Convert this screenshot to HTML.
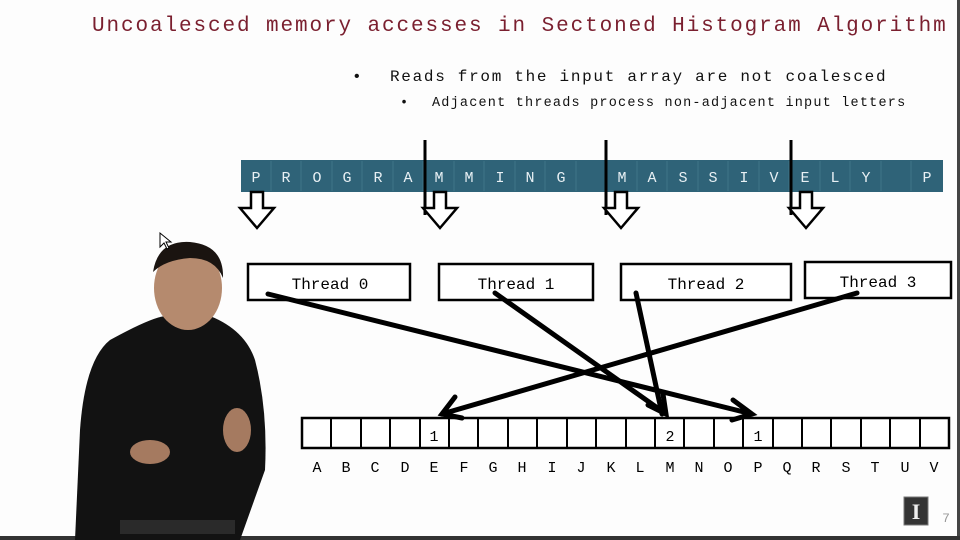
<!DOCTYPE html>
<html><head><meta charset="utf-8"><style>
body{margin:0;width:960px;height:540px;overflow:hidden;background:#fff;font-family:"Liberation Mono",monospace;}
svg{position:absolute;left:0;top:0}
</style></head><body>
<svg width="960" height="540" viewBox="0 0 960 540" font-family="Liberation Mono, monospace">
<rect width="960" height="540" fill="#fdfdfd"/>
<rect x="957" y="0" width="3" height="540" fill="#444"/>
<rect x="0" y="536" width="960" height="4" fill="#333"/>
<text x="92" y="31" font-size="21" fill="#7a1f2f" letter-spacing="1.9">Uncoalesced memory accesses in Sectoned Histogram Algorithm</text>
<text x="352" y="81" font-size="16" fill="#111">•</text>
<text x="390" y="81" font-size="16" fill="#111" letter-spacing="1.7">Reads from the input array are not coalesced</text>
<text x="400" y="106" font-size="13.5" fill="#111">•</text>
<text x="432" y="106" font-size="13.5" fill="#111" letter-spacing="1.2">Adjacent threads process non-adjacent input letters</text>
<rect x="241" y="160" width="702" height="32" fill="#2f6378"/>
<g fill="#e8f0f4" font-size="15" text-anchor="middle">
<text x="256" y="182">P</text><text x="286" y="182">R</text><text x="317" y="182">O</text><text x="347" y="182">G</text><text x="378" y="182">R</text><text x="408" y="182">A</text><text x="439" y="182">M</text><text x="469" y="182">M</text><text x="500" y="182">I</text><text x="530" y="182">N</text><text x="561" y="182">G</text><text x="622" y="182">M</text><text x="652" y="182">A</text><text x="683" y="182">S</text><text x="713" y="182">S</text><text x="744" y="182">I</text><text x="774" y="182">V</text><text x="805" y="182">E</text><text x="835" y="182">L</text><text x="866" y="182">Y</text><text x="927" y="182">P</text>
</g>
<g stroke="#3f7589" stroke-width="1">
<path d="M271 161v30M301 161v30M332 161v30M362 161v30M393 161v30M423 161v30M454 161v30M484 161v30M515 161v30M545 161v30M576 161v30M606 161v30M637 161v30M667 161v30M698 161v30M728 161v30M759 161v30M789 161v30M820 161v30M850 161v30M881 161v30M911 161v30"/>
</g>
<g stroke="#000" stroke-width="3"><path d="M425 140v75M606 140v75M791 140v75"/></g>
<g fill="#fff" stroke="#000" stroke-width="2.5">
<path d="M251 192h12v16h11l-17 20l-17-20h11z"/>
<path d="M434 192h12v16h11l-17 20l-17-20h11z"/>
<path d="M615 192h12v16h11l-17 20l-17-20h11z"/>
<path d="M800 192h12v16h11l-17 20l-17-20h11z"/>
</g>
<g fill="#fff" stroke="#000" stroke-width="2.5">
<rect x="248" y="264" width="162" height="36"/><rect x="439" y="264" width="154" height="36"/>
<rect x="621" y="264" width="170" height="36"/><rect x="805" y="262" width="146" height="36"/>
</g>
<g font-size="16" text-anchor="middle" fill="#000">
<text x="330" y="289">Thread 0</text><text x="516" y="289">Thread 1</text><text x="706" y="289">Thread 2</text><text x="878" y="287">Thread 3</text>
</g>
<rect x="302" y="418" width="647" height="30" fill="#fff" stroke="#000" stroke-width="2.5"/>
<g stroke="#000" stroke-width="2">
<path d="M331 418v30M361 418v30M390 418v30M420 418v30M449 418v30M478 418v30M508 418v30M537 418v30M567 418v30M596 418v30M626 418v30M655 418v30M684 418v30M714 418v30M743 418v30M773 418v30M802 418v30M831 418v30M861 418v30M890 418v30M920 418v30"/>
</g>
<g font-size="15" text-anchor="middle" fill="#000">
<text x="434" y="441">1</text><text x="670" y="441">2</text><text x="758" y="441">1</text>
</g>
<g font-size="15" text-anchor="middle" fill="#000">
<text x="317" y="472">A</text><text x="346" y="472">B</text><text x="375" y="472">C</text><text x="405" y="472">D</text><text x="434" y="472">E</text><text x="464" y="472">F</text><text x="493" y="472">G</text><text x="522" y="472">H</text><text x="552" y="472">I</text><text x="581" y="472">J</text><text x="611" y="472">K</text><text x="640" y="472">L</text><text x="670" y="472">M</text><text x="699" y="472">N</text><text x="728" y="472">O</text><text x="758" y="472">P</text><text x="787" y="472">Q</text><text x="816" y="472">R</text><text x="846" y="472">S</text><text x="875" y="472">T</text><text x="905" y="472">U</text><text x="934" y="472">V</text>
</g>
<g stroke="#000" stroke-width="5" fill="none" stroke-linecap="round">
<path d="M268 294L752 414M733 400L752 414L732 420"/>
<path d="M495 293L666 414M648 405L666 414L663 394"/>
<path d="M636 293L662 414"/>
<path d="M857 293L442 414M455 397L442 414L462 418"/>
</g>
<g>
<path d="M75 540L80 430Q85 360 110 340Q150 318 165 316L210 316Q245 330 255 360Q268 410 265 470L240 540Z" fill="#121212"/>
<ellipse cx="188" cy="288" rx="34" ry="42" fill="#b58a6e"/>
<path d="M153 272Q158 240 190 242Q224 245 223 278Q215 258 190 258Q165 260 153 272Z" fill="#1a1410"/>
<ellipse cx="150" cy="452" rx="20" ry="12" fill="#a57a60"/>
<ellipse cx="237" cy="430" rx="14" ry="22" fill="#a57a60"/>
<rect x="120" y="520" width="115" height="14" fill="#2a2a2a"/>
</g>
<path d="M160 233l0 14l4-4l3 6l2-1l-3-6l5 0z" fill="#fff" stroke="#000" stroke-width="1"/>
<rect x="904" y="497" width="24" height="28" fill="#333" stroke="#777"/>
<text x="916" y="519" font-size="22" fill="#eee" text-anchor="middle" font-family="Liberation Serif, serif" font-weight="bold">I</text>
<text x="946" y="522" font-size="13" fill="#999" text-anchor="middle">7</text>
</svg>
</body></html>
